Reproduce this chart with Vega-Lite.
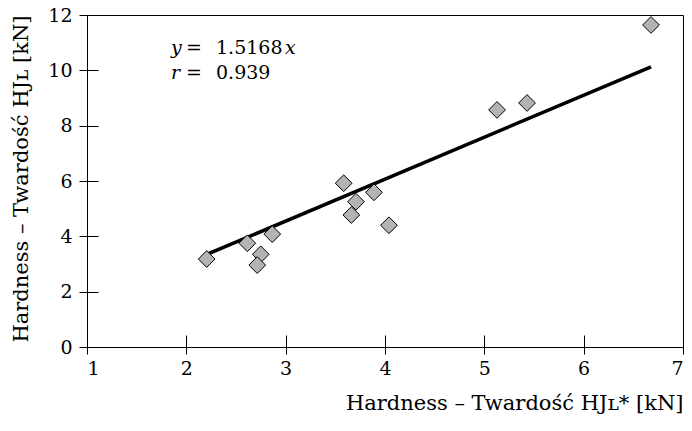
{
  "$schema": "https://vega.github.io/schema/vega-lite/v6.json",
  "width": 596,
  "height": 332,
  "autosize": "none",
  "padding": {"left": 87, "top": 15, "right": 9, "bottom": 84},
  "background": "white",
  "config": {
    "view": {"stroke": "black", "strokeWidth": 1},
    "font": "DejaVu Serif",
    "axis": {
      "labelFont": "DejaVu Serif",
      "titleFont": "DejaVu Serif",
      "labelFontSize": 19,
      "titleFontSize": 21,
      "titleFontWeight": "normal",
      "labelColor": "black",
      "titleColor": "black",
      "tickColor": "black",
      "tickWidth": 1,
      "tickSize": 19,
      "domain": false,
      "grid": false,
      "zindex": 1
    }
  },
  "datasets": {
    "points": [
      {"x": 2.205, "y": 3.18},
      {"x": 2.614, "y": 3.75},
      {"x": 2.749, "y": 3.35},
      {"x": 2.714, "y": 2.96},
      {"x": 2.865, "y": 4.08},
      {"x": 3.584, "y": 5.92},
      {"x": 3.708, "y": 5.25},
      {"x": 3.661, "y": 4.77},
      {"x": 3.889, "y": 5.59},
      {"x": 4.04, "y": 4.4},
      {"x": 5.128, "y": 8.57},
      {"x": 5.43, "y": 8.82},
      {"x": 6.678, "y": 11.64}
    ],
    "fit": [
      {"x": 2.205, "y": 3.344},
      {"x": 6.678, "y": 10.129}
    ],
    "italic": [
      {"x": 1.846, "y": 10.81, "t": "y"},
      {"x": 2.993, "y": 10.81, "t": "x"},
      {"x": 1.846, "y": 9.9, "t": "r"}
    ],
    "roman": [
      {"x": 1.997, "y": 10.81, "t": "="},
      {"x": 2.299, "y": 10.81, "t": "1.5168"},
      {"x": 1.997, "y": 9.9, "t": "="},
      {"x": 2.299, "y": 9.9, "t": "0.939"}
    ]
  },
  "layer": [
    {
      "mark": {"type": "rule", "color": "#8c8c8c", "strokeWidth": 1},
      "encoding": {"x": {"datum": 7, "type": "quantitative", "scale": {"domain": [1, 7], "nice": false, "zero": false}}}
    },
    {
      "data": {"name": "fit"},
      "mark": {"type": "line", "color": "black", "strokeWidth": 3.5},
      "encoding": {
        "x": {"field": "x", "type": "quantitative"},
        "y": {"field": "y", "type": "quantitative"}
      }
    },
    {
      "data": {"name": "points"},
      "mark": {"type": "point", "shape": "diamond", "filled": true, "fill": "#b3b3b3", "stroke": "black", "strokeWidth": 1, "size": 280, "opacity": 1},
      "encoding": {
        "x": {
          "field": "x", "type": "quantitative",
          "scale": {"domain": [1, 7], "nice": false, "zero": false},
          "axis": {
            "values": [1, 2, 3, 4, 5, 6, 7],
            "format": "d",
            "offset": -12,
            "labelPadding": 5,
            "title": "Hardness – Twardość HJʟ* [kN]",
            "titleAnchor": "end",
            "titlePadding": 14
          }
        },
        "y": {
          "field": "y", "type": "quantitative",
          "scale": {"domain": [0, 12], "nice": false, "zero": false},
          "axis": {
            "values": [0, 2, 4, 6, 8, 10, 12],
            "format": "d",
            "offset": -11,
            "labelPadding": 7,
            "title": "Hardness – Twardość HJʟ [kN]",
            "titleAnchor": "end",
            "titlePadding": 16
          }
        }
      }
    },
    {
      "data": {"name": "italic"},
      "mark": {"type": "text", "align": "left", "baseline": "middle", "fontStyle": "italic", "fontSize": 19, "font": "DejaVu Serif", "color": "black"},
      "encoding": {
        "x": {"field": "x", "type": "quantitative"},
        "y": {"field": "y", "type": "quantitative"},
        "text": {"field": "t"}
      }
    },
    {
      "data": {"name": "roman"},
      "mark": {"type": "text", "align": "left", "baseline": "middle", "fontSize": 19, "font": "DejaVu Serif", "color": "black"},
      "encoding": {
        "x": {"field": "x", "type": "quantitative"},
        "y": {"field": "y", "type": "quantitative"},
        "text": {"field": "t"}
      }
    }
  ]
}
